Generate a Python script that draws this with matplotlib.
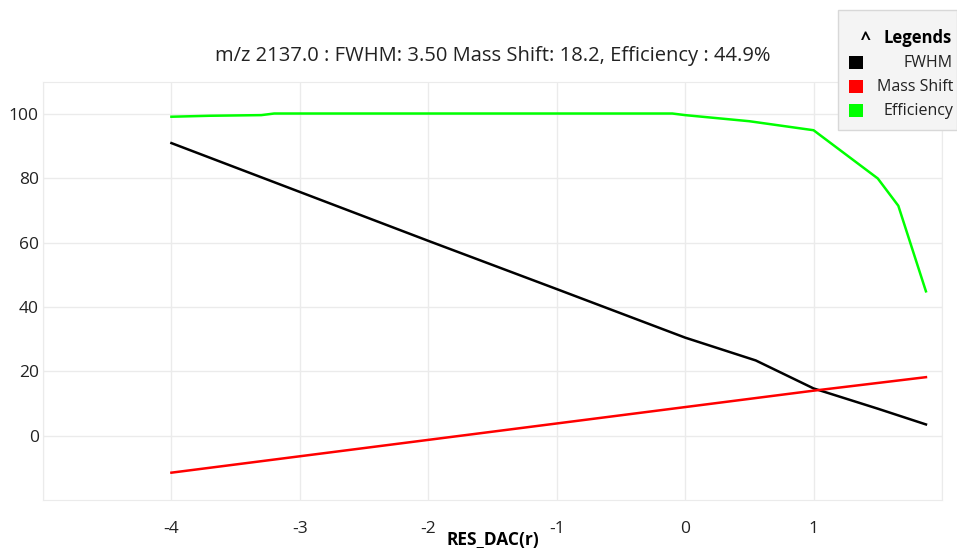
import matplotlib.pyplot as plt
from matplotlib.patches import Rectangle

# data
fwhm_x = [-4, -3, -2, -1, 0, 0.55, 1.0, 1.5, 1.875]
fwhm_y = [91.0, 75.8, 60.6, 45.6, 30.5, 23.4, 14.7, 8.4, 3.5]

shift_x = [-4, -3, -2, -1, 0, 1, 1.875]
shift_y = [-11.5, -6.4, -1.3, 3.8, 8.9, 14.0, 18.2]

eff_x = [-4, -3.7, -3.3, -3.2, -0.1, 0, 0.5, 1.0, 1.5, 1.66, 1.875]
eff_y = [99.2, 99.5, 99.7, 100.2, 100.2, 99.7, 97.8, 95.0, 80.0, 71.5, 44.9]

names = ['FWHM', 'Mass Shift', 'Efficiency']
colors = ['#000000', '#ff0000', '#00ff00']

plt.rcParams['font.family'] = ['Open Sans', 'DejaVu Sans']
plt.rcParams['axes.unicode_minus'] = False

fig = plt.figure(figsize=(9.57, 5.48), dpi=100)
ax = fig.add_axes([43/957, 1 - 500/548, (942-43)/957, (500-82)/548])

ax.plot(fwhm_x, fwhm_y, color=colors[0], lw=1.8)
ax.plot(shift_x, shift_y, color=colors[1], lw=1.8)
ax.plot(eff_x, eff_y, color=colors[2], lw=1.8)

ax.set_xlim(-5, 2)
ax.set_ylim(-20, 110)
ax.set_xticks([-4, -3, -2, -1, 0, 1])
ax.set_yticks([0, 20, 40, 60, 80, 100])
ax.set_xticks([-5, 2], minor=True)
ax.grid(True, which='both', color='#ebebeb', lw=1)
ax.tick_params(which='both', length=0, labelsize=12.5, colors='#222222', pad=3)
ax.tick_params(axis='x', pad=15)
for s in ax.spines.values():
    s.set_color('#ebebeb')

ax.set_title('m/z 2137.0 : FWHM: 3.50 Mass Shift: 18.2, Efficiency : 44.9%',
             fontsize=14.5, color='#222222', pad=15)
ax.set_xlabel('RES_DAC(r)', fontsize=12.5, fontweight='bold', fontstretch='condensed',
              labelpad=-4)

# legend box, drawn in figure pixels
def px(x, y):
    return x / 957, 1 - y / 548

x0, y0 = px(838, 130)
fig.patches.append(Rectangle((x0, y0), (957-838)/957, 120/548, transform=fig.transFigure,
                             facecolor='#f4f4f4', edgecolor='#d8d8d8', lw=1))
fig.text(*px(866, 40), '^', fontsize=13, fontweight='bold', ha='center', va='center')
fig.text(*px(952, 38), 'Legends', fontsize=12, fontweight='bold', ha='right', va='center')
for i, (n, c) in enumerate(zip(names, colors)):
    yy = 63 + i * 24
    sx, sy = px(849, yy + 6)
    fig.patches.append(Rectangle((sx, sy), 14/957, 13/548, transform=fig.transFigure,
                                 facecolor=c, edgecolor='none'))
    fig.text(*px(953, yy), n, fontsize=11.5, ha='right', va='center', color='#222222')

fig.savefig('out.png')
